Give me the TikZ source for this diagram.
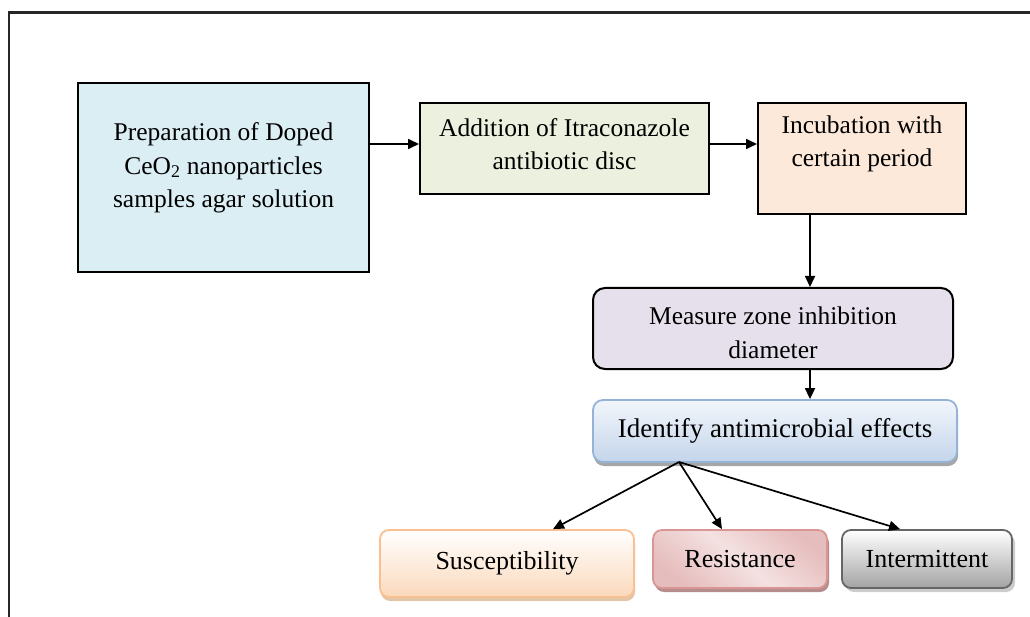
\documentclass[tikz,border=0pt]{standalone}
\usepackage{fontspec}
\setmainfont{Liberation Serif}
\usetikzlibrary{arrows.meta,shadows}

\definecolor{prepblue}{HTML}{DBEEF4}
\definecolor{addgreen}{HTML}{EBF1DE}
\definecolor{incpeach}{HTML}{FDE9D9}
\definecolor{measlilac}{HTML}{E5E0EC}
\definecolor{identtop}{HTML}{F2F6FB}
\definecolor{identbot}{HTML}{C4D5EB}
\definecolor{identline}{HTML}{95B3D7}
\definecolor{suscbot}{HTML}{FBD9BC}
\definecolor{suscline}{HTML}{FAC090}
\definecolor{resdark}{HTML}{E6BDBD}
\definecolor{reslight}{HTML}{F4E1E1}
\definecolor{resline}{HTML}{D99694}
\definecolor{intbot}{HTML}{A3A3A3}
\definecolor{intline}{HTML}{666666}

\tikzset{
    procbox/.style={draw=black, line width=2pt, inner sep=0pt},
    roundbox/.style={procbox, rounded corners=12pt},
    boxtext/.style={align=center, font=\fontsize{25.5}{33.5}\selectfont},
    endbox/.style={line width=1.8pt, rounded corners=9pt, inner sep=0pt, font=\fontsize{26}{30}\selectfont},
    flow/.style={line width=1.7pt, -{Triangle[length=11pt,width=10pt]}},
}

\begin{document}
\begin{tikzpicture}[x=1pt, y=-1pt]
    \useasboundingbox (0,0) rectangle (1030,617);
    % outer frame, cut off on the right and at the bottom
    \draw[line width=2.4pt, black!85] (9,617) -- (9,12.5) -- (1030,12.5);

    % top row
    \node[procbox, fill=prepblue, minimum width=291pt, minimum height=189pt] (prep) at (223.5,177.5) {};
    \node[boxtext] (prep-txt) at (223.5,168) {Preparation of Doped\\CeO\textsubscript{2} nanoparticles\\samples agar solution};
    \node[procbox, fill=addgreen, minimum width=289pt, minimum height=91pt] (addn) at (564.5,148.5) {};
    \node[boxtext] (addn-txt) at (564.5,144) {Addition of Itraconazole\\antibiotic disc};
    \node[procbox, fill=incpeach, minimum width=208pt, minimum height=111pt] (incub) at (862,158.5) {};
    \node[boxtext] (incub-txt) at (862,144) {Incubation with\\certain period};

    % middle
    \node[roundbox, fill=measlilac, minimum width=360pt, minimum height=81pt] (meas) at (773,328.5) {};
    \node[boxtext] (meas-txt) at (773,333) {Measure zone inhibition\\diameter};
    \node[procbox, draw=identline, line width=1.8pt, rounded corners=10pt, top color=identtop, bottom color=identbot,
          drop shadow={shadow xshift=1pt, shadow yshift=-4pt, fill=black!35, opacity=1},
          minimum width=364pt, minimum height=62pt, boxtext, font=\fontsize{27}{30}\selectfont] (ident) at (775,431) {Identify antimicrobial effects};
    \coordinate (split) at (679,462);

    % outcomes
    \node[endbox, draw=suscline, top color=white, bottom color=suscbot,
          drop shadow={shadow xshift=1pt, shadow yshift=-4pt, fill=brown!45, opacity=1},
          minimum width=254pt, minimum height=67pt] (susc) at (507,563.5) {Susceptibility};
    \node[endbox, draw=resline, left color=resdark, right color=resdark, middle color=reslight, shading angle=-40,
          drop shadow={shadow xshift=2pt, shadow yshift=-4pt, fill=resline!60!gray, opacity=1},
          minimum width=174pt, minimum height=58pt] (resist) at (740,559) {Resistance};
    \node[endbox, draw=intline, top color=white, bottom color=intbot,
          drop shadow={shadow xshift=3pt, shadow yshift=-4pt, fill=black!20, opacity=1},
          minimum width=170pt, minimum height=58pt] (interm) at (927,559) {Intermittent};

    % connectors
    \draw[flow] (prep.east |- addn-txt) -- (addn.west |- addn-txt);
    \draw[flow] (addn.east |- addn-txt) -- (incub.west |- addn-txt);
    \draw[flow] ([xshift=-52pt]incub.south) -- ([xshift=37pt]meas.north);
    \draw[flow] ([xshift=37pt]meas.south) -- ([xshift=35pt]ident.north);
    \draw[flow] (split) -- ([xshift=46pt]susc.north);
    \draw[flow] (split) -- ([xshift=-18pt]resist.north);
    \draw[flow] (split) -- ([xshift=-27pt]interm.north);
\end{tikzpicture}
\end{document}
